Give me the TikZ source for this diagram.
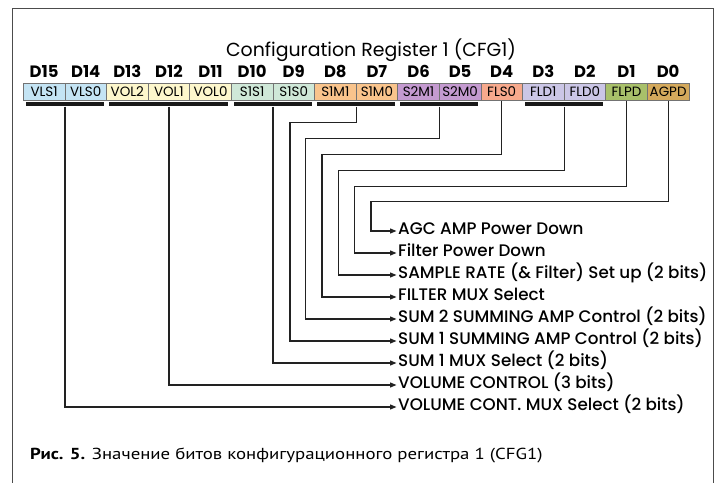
\documentclass[tikz,border=0pt]{standalone}
\usepackage{fontspec}
\setmainfont{Poppins}
\newfontfamily\medfont{Poppins Medium}
\newfontfamily\capfont{PT Sans}[FakeStretch=1.18]
\usepackage{tikz}
\usetikzlibrary{arrows.meta,positioning}

\definecolor{vlscol}{HTML}{C4E4F4}
\definecolor{volcol}{HTML}{FDF7CC}
\definecolor{sscol}{HTML}{CFE8D8}
\definecolor{smcol}{HTML}{F9C48C}
\definecolor{s2col}{HTML}{C49AD0}
\definecolor{flscol}{HTML}{F7A98C}
\definecolor{fldcol}{HTML}{CBC6E6}
\definecolor{flpcol}{HTML}{A8C06A}
\definecolor{agcol}{HTML}{D4A95C}
\definecolor{linecol}{HTML}{222222}

\begin{document}
\begin{tikzpicture}[
  x=1bp, y=-1bp,
  cell/.style={draw=black!55, line width=0.6bp, minimum width=41.6bp, minimum height=17.4bp,
    inner sep=0pt, outer sep=0pt, font=\fontsize{13.5}{13.5}\selectfont},
  bitno/.style={inner sep=0pt, text depth=0pt, font=\bfseries\fontsize{16.5}{16.5}\selectfont},
  bartwo/.style={fill=black!90, inner sep=0pt, minimum width=78bp, minimum height=4.5bp},
  barthree/.style={fill=black!90, inner sep=0pt, minimum width=119bp, minimum height=4.5bp},
  lbl/.style={anchor=west, inner xsep=1.5bp, inner ysep=0pt, text height=0.7em, text depth=0pt,
    font=\medfont\fontsize{16.8}{16.8}\selectfont},
  conn/.style={draw=linecol, line width=1.2bp, -{Triangle[length=6.5bp, width=5bp]}},
  frame/.style={draw=black!70, line width=1bp}
]
\useasboundingbox (0,0) rectangle (717,483);
\draw[frame] (12,483) -- (12,9) -- (713,9) -- (713,483);

\node[font=\fontsize{19}{19}\selectfont] (title) at (371,50) {Configuration Register 1 (CFG1)};

% register cells, D15 down to D0
\node[cell, fill=vlscol] (c15) at (44.1,92) {VLS1};
\node[cell, fill=vlscol, right=0pt of c15] (c14) {VLS0};
\node[cell, fill=volcol, right=0pt of c14] (c13) {VOL2};
\node[cell, fill=volcol, right=0pt of c13] (c12) {VOL1};
\node[cell, fill=volcol, right=0pt of c12] (c11) {VOL0};
\node[cell, fill=sscol, right=0pt of c11] (c10) {S1S1};
\node[cell, fill=sscol, right=0pt of c10] (c9) {S1S0};
\node[cell, fill=smcol, right=0pt of c9] (c8) {S1M1};
\node[cell, fill=smcol, right=0pt of c8] (c7) {S1M0};
\node[cell, fill=s2col, right=0pt of c7] (c6) {S2M1};
\node[cell, fill=s2col, right=0pt of c6] (c5) {S2M0};
\node[cell, fill=flscol, right=0pt of c5] (c4) {FLS0};
\node[cell, fill=fldcol, right=0pt of c4] (c3) {FLD1};
\node[cell, fill=fldcol, right=0pt of c3] (c2) {FLD0};
\node[cell, fill=flpcol, right=0pt of c2] (c1) {FLPD};
\node[cell, fill=agcol, right=0pt of c1] (c0) {AGPD};

\foreach \i in {15,...,0}
  \node[bitno, above=6bp of c\i] (d\i) {D\i};

% black bars under the bit groups
\node[bartwo, below=1bp of c15.south east] (vlsbar) {};
\node[barthree, below=1bp of c12] (volbar) {};
\node[bartwo, below=1bp of c10.south east] (ssbar) {};
\node[bartwo, below=1bp of c8.south east] (smbar) {};
\node[bartwo, below=1bp of c6.south east] (s2bar) {};
\node[bartwo, below=1bp of c3.south east] (fldbar) {};

% descriptions
\node[lbl] (agc) at (396.5,231) {AGC AMP Power Down};
\node[lbl, below=22bp of agc.west, anchor=west] (flpd) {Filter Power Down};
\node[lbl, below=22bp of flpd.west, anchor=west] (rate) {SAMPLE RATE (\& Filter) Set up (2 bits)};
\node[lbl, below=22bp of rate.west, anchor=west] (fmux) {FILTER MUX Select};
\node[lbl, below=22bp of fmux.west, anchor=west] (sum2) {SUM 2 SUMMING AMP Control (2 bits)};
\node[lbl, below=22bp of sum2.west, anchor=west] (sum1) {SUM 1 SUMMING AMP Control (2 bits)};
\node[lbl, below=22bp of sum1.west, anchor=west] (smux) {SUM 1 MUX Select (2 bits)};
\node[lbl, below=22bp of smux.west, anchor=west] (vol) {VOLUME CONTROL (3 bits)};
\node[lbl, below=22bp of vol.west, anchor=west] (vmux) {VOLUME CONT. MUX Select (2 bits)};

\draw[conn] (c0.south) |- (371,201.5) |- (agc.west);
\draw[conn] (c1.south) |- (354.5,186.5) |- (flpd.west);
\draw[conn] (fldbar.south) |- (338.5,170.5) |- (rate.west);
\draw[conn] (c4.south) |- (322,154.5) |- (fmux.west);
\draw[conn] (s2bar.south) |- (305.5,138.5) |- (sum2.west);
\draw[conn] (smbar.south) |- (290,122.5) |- (sum1.west);
\draw[conn] (ssbar.south) |- (smux.west);
\draw[conn] (volbar.south) |- (vol.west);
\draw[conn] (vlsbar.south) |- (vmux.west);

\node[anchor=base west, inner sep=0pt, font=\capfont\fontsize{16}{16}\selectfont] (caption) at (30,459)
  {\textbf{Рис. 5.} Значение битов конфигурационного регистра 1 (CFG1)};
\end{tikzpicture}
\end{document}
